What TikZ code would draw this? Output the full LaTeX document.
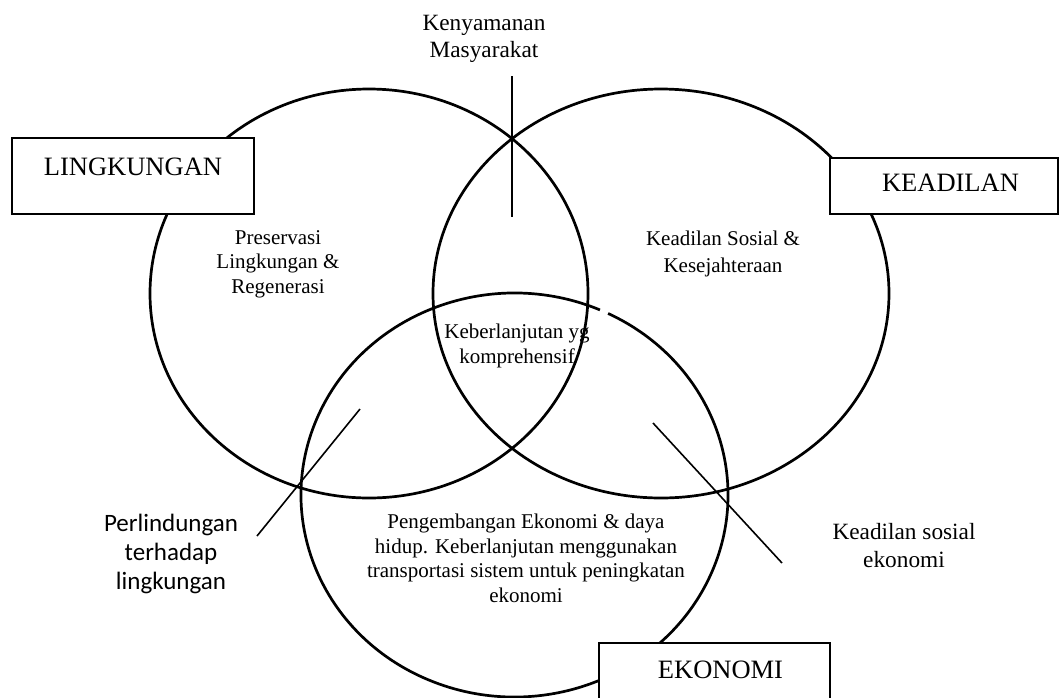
\documentclass[tikz,border=0pt]{standalone}
\usepackage{fontspec}
\setmainfont{Liberation Serif}
\newfontfamily\labelsans{Carlito}
\begin{document}
\begin{tikzpicture}[x=1pt,y=1pt,
  ring/.style={draw, line width=2.7pt},
  leader/.style={draw, line width=1.6pt},
  titlebox/.style={draw, line width=2pt, fill=white, rectangle, inner sep=0pt},
  titletext/.style={font=\fontsize{26.5}{30}\selectfont, inner sep=0pt},
  areatext/.style={align=center, font=\fontsize{21}{24.5}\selectfont, inner sep=0pt},
  sidetext/.style={align=center, font=\fontsize{23.3}{27}\selectfont, inner sep=0pt},
]
\useasboundingbox (0,0) rectangle (1063,-697);

% centres of the three rings
\coordinate (envC) at (369,-293.5);
\coordinate (jusC) at (661,-293.5);
\coordinate (ecoC) at (514.5,-495);

% the three rings
\draw[ring] (envC) ellipse [x radius=219pt, y radius=204.5pt];
\draw[ring] (jusC) ellipse [x radius=228pt, y radius=204.5pt];
\draw[ring] ([shift={(66.4:213.5pt and 202pt)}]ecoC)
  arc[start angle=66.4, end angle=424, x radius=213.5pt, y radius=202pt];

% leader lines
\coordinate (comfTop) at (512,-76);
\coordinate (comfEnd) at (512,-217);
\coordinate (protIn) at (360,-409);
\coordinate (protOut) at (257,-536);
\coordinate (socIn) at (653,-423);
\coordinate (socOut) at (782,-563);
\draw[leader] (comfTop) -- (comfEnd);
\draw[leader] (protIn) -- (protOut);
\draw[leader] (socIn) -- (socOut);

% title boxes
\node[titlebox, minimum width=242pt, minimum height=76pt] (envBox) at (133,-176) {};
\node[titlebox, minimum width=228pt, minimum height=56pt] (jusBox) at (944,-186) {};
\node[titlebox, minimum width=231pt, minimum height=100pt] (ecoBox) at (714.5,-693) {};
\node[titletext] (envTitle) at (133,-167) {LINGKUNGAN};
\node[titletext] (jusTitle) at (950.5,-183) {KEADILAN};
\node[titletext] (ecoTitle) at (720.5,-670) {EKONOMI};

% texts inside the rings
\node[areatext] (envText) at (278,-264) {Preservasi\\Lingkungan \&\\Regenerasi};
\node[areatext, font=\fontsize{21}{27}\selectfont] (jusText) at (723,-253.5) {Keadilan Sosial \&\\Kesejahteraan};
\node[areatext, font=\fontsize{21}{25}\selectfont] (coreText) at (517,-345.5) {Keberlanjutan yg\\komprehensif};
\node[areatext] (ecoText) at (526,-558.5) {Pengembangan Ekonomi \& daya\\hidup. Keberlanjutan menggunakan\\transportasi sistem untuk peningkatan\\ekonomi};

% texts outside the rings
\node[sidetext] (comfText) at (484,-38.5) {Kenyamanan\\Masyarakat};
\node[align=center, inner sep=0pt, font=\labelsans\fontsize{25}{29}\selectfont] (protText) at (171,-554) {Perlindungan\\terhadap\\lingkungan};
\node[sidetext, font=\fontsize{23.3}{28}\selectfont] (socText) at (904,-546) {Keadilan sosial\\ekonomi};
\end{tikzpicture}
\end{document}
